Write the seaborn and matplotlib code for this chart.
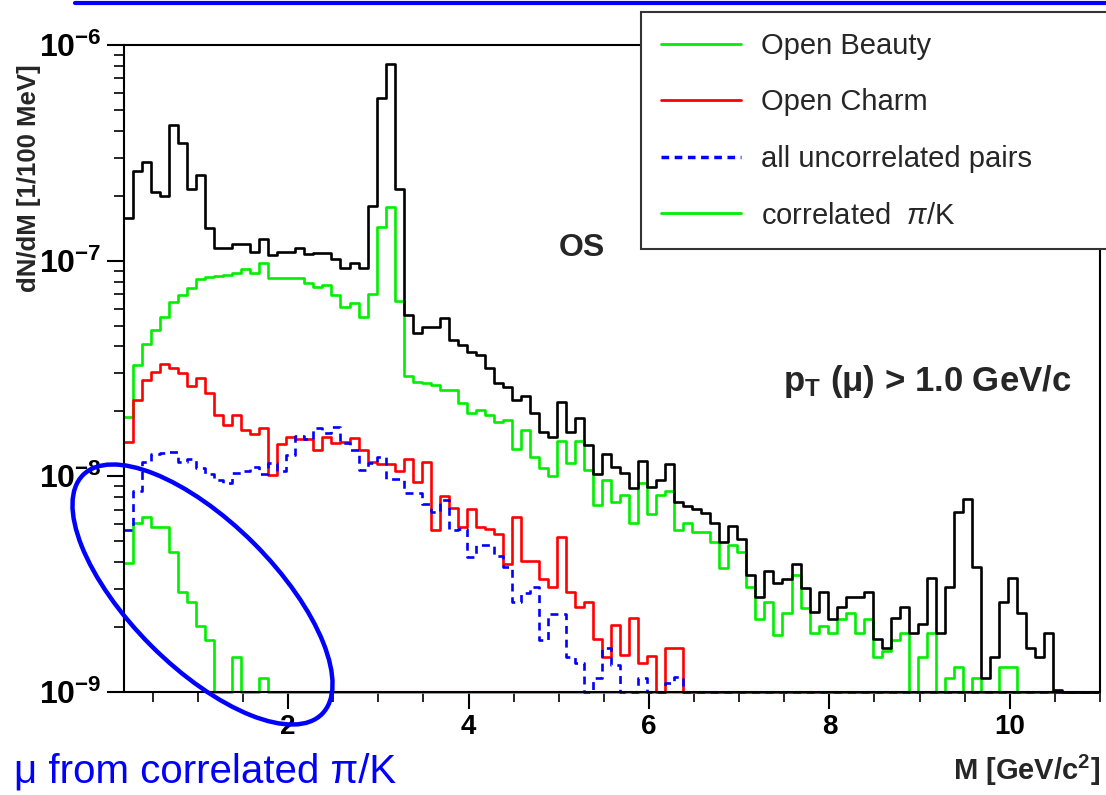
import numpy as np
import matplotlib
matplotlib.use("Agg")
import matplotlib.pyplot as plt
import seaborn as sns
from matplotlib.lines import Line2D
from matplotlib.patches import Ellipse
from matplotlib.transforms import IdentityTransform
from matplotlib.ticker import MultipleLocator, LogLocator, NullFormatter

# ---------------- data (dN/dM per 100 MeV bin) ----------------
bin_low = 0.18
bin_width = 0.1

total = [
    1.57e-7, 2.61e-7, 2.87e-7, 2.09e-7, 2.00e-7, 4.26e-7, 3.50e-7, 2.14e-7, 2.50e-7, 1.41e-7,
    1.14e-7, 1.14e-7, 1.19e-7, 1.19e-7, 1.10e-7, 1.26e-7, 1.06e-7, 1.10e-7, 1.10e-7, 1.14e-7,
    1.07e-7, 1.08e-7, 1.08e-7, 1.02e-7, 9.25e-8, 9.80e-8, 9.25e-8, 1.80e-7, 5.70e-7, 8.15e-7,
    2.15e-7, 5.60e-8, 4.60e-8, 4.90e-8, 4.90e-8, 5.45e-8, 4.30e-8, 4.07e-8, 3.78e-8, 3.66e-8,
    3.18e-8, 2.70e-8, 2.60e-8, 2.26e-8, 2.36e-8, 1.97e-8, 1.60e-8, 1.53e-8, 2.22e-8, 1.60e-8,
    1.86e-8, 1.40e-8, 1.03e-8, 1.27e-8, 1.11e-8, 1.04e-8, 8.80e-9, 1.18e-8, 8.90e-9, 9.60e-9,
    1.14e-8, 7.60e-9, 7.25e-9, 7.05e-9, 6.75e-9, 6.10e-9, 4.97e-9, 5.90e-9, 5.13e-9, 3.49e-9,
    2.76e-9, 3.64e-9, 3.20e-9, 3.34e-9, 3.93e-9, 3.04e-9, 2.35e-9, 2.91e-9, 2.18e-9, 2.48e-9,
    2.76e-9, 2.76e-9, 2.91e-9, 1.76e-9, 1.60e-9, 2.20e-9, 2.48e-9, 1.88e-9, 2.07e-9, 3.38e-9,
    1.88e-9, 3.08e-9, 6.86e-9, 7.83e-9, 3.79e-9, 1.16e-9, 1.46e-9, 2.62e-9, 3.38e-9, 2.33e-9,
    1.60e-9, 1.46e-9, 1.88e-9, 1.02e-9, 0.0, 0.0, 0.0, 0.0,
]

open_beauty = [
    1.89e-8, 3.28e-8, 4.11e-8, 4.77e-8, 5.50e-8, 6.45e-8, 6.93e-8, 7.45e-8, 8.20e-8, 8.38e-8,
    8.45e-8, 8.59e-8, 8.75e-8, 9.12e-8, 8.75e-8, 9.79e-8, 8.32e-8, 8.32e-8, 8.32e-8, 8.32e-8,
    7.88e-8, 7.53e-8, 7.71e-8, 6.93e-8, 6.12e-8, 6.35e-8, 5.50e-8, 7.01e-8, 1.44e-7, 1.78e-7,
    6.50e-8, 2.92e-8, 2.75e-8, 2.71e-8, 2.65e-8, 2.52e-8, 2.52e-8, 2.19e-8, 1.97e-8, 2.03e-8,
    1.93e-8, 1.79e-8, 1.82e-8, 1.34e-8, 1.64e-8, 1.23e-8, 1.09e-8, 1.00e-8, 1.46e-8, 1.15e-8,
    1.46e-8, 1.07e-8, 7.36e-9, 9.60e-9, 7.64e-9, 8.20e-9, 6.10e-9, 9.35e-9, 6.67e-9, 8.20e-9,
    8.59e-9, 5.64e-9, 6.10e-9, 5.54e-9, 5.54e-9, 4.97e-9, 3.76e-9, 4.81e-9, 4.48e-9, 3.07e-9,
    2.18e-9, 2.62e-9, 1.83e-9, 2.33e-9, 3.49e-9, 2.46e-9, 1.87e-9, 2.03e-9, 1.87e-9, 2.18e-9,
    2.33e-9, 1.87e-9, 2.18e-9, 1.45e-9, 1.55e-9, 1.74e-9, 1.88e-9, 0.0, 1.46e-9, 1.88e-9,
    0.0, 1.16e-9, 1.31e-9, 0.0, 1.16e-9, 0.0, 0.0, 1.31e-9, 1.31e-9, 0.0,
    0.0, 0.0, 0.0, 0.0, 0.0, 0.0, 0.0, 0.0,
]

open_charm = [
    1.45e-8, 2.26e-8, 2.80e-8, 3.06e-8, 3.31e-8, 3.17e-8, 3.01e-8, 2.62e-8, 2.85e-8, 2.43e-8,
    1.93e-8, 1.73e-8, 1.93e-8, 1.64e-8, 1.57e-8, 1.68e-8, 1.01e-8, 1.41e-8, 1.53e-8, 1.49e-8,
    1.49e-8, 1.32e-8, 1.53e-8, 1.42e-8, 1.45e-8, 1.50e-8, 1.33e-8, 1.17e-8, 1.14e-8, 1.14e-8,
    1.06e-8, 1.20e-8, 9.46e-9, 1.17e-8, 5.64e-9, 8.10e-9, 7.11e-9, 5.85e-9, 7.03e-9, 5.85e-9,
    5.69e-9, 5.41e-9, 3.93e-9, 6.47e-9, 4.06e-9, 4.06e-9, 3.33e-9, 3.06e-9, 5.25e-9, 2.92e-9,
    2.49e-9, 2.62e-9, 1.77e-9, 1.46e-9, 2.05e-9, 1.49e-9, 2.20e-9, 1.36e-9, 1.47e-9, 0.0,
    1.60e-9, 1.60e-9, 0.0, 0.0, 0.0, 0.0, 0.0, 0.0, 0.0, 0.0,
    0.0, 0.0, 0.0, 0.0, 0.0, 0.0, 0.0, 0.0, 0.0, 0.0,
    0.0, 0.0, 0.0, 0.0, 0.0, 0.0, 0.0, 0.0, 0.0, 0.0,
    0.0, 0.0, 0.0, 0.0, 0.0, 0.0, 0.0, 0.0, 0.0, 0.0,
    0.0, 0.0, 0.0, 0.0, 0.0, 0.0, 0.0, 0.0,
]

uncorrelated = [
    5.64e-9, 8.59e-9, 1.17e-8, 1.27e-8, 1.28e-8, 1.30e-8, 1.17e-8, 1.20e-8, 1.09e-8, 1.03e-8,
    9.60e-9, 9.35e-9, 1.04e-8, 1.06e-8, 1.11e-8, 1.03e-8, 1.15e-8, 1.06e-8, 1.26e-8, 1.54e-8,
    1.49e-8, 1.67e-8, 1.58e-8, 1.70e-8, 1.43e-8, 1.33e-8, 1.07e-8, 1.15e-8, 1.23e-8, 9.70e-9,
    9.70e-9, 8.35e-9, 8.40e-9, 7.45e-9, 6.86e-9, 7.73e-9, 5.64e-9, 5.69e-9, 4.22e-9, 4.81e-9,
    4.81e-9, 4.25e-9, 3.79e-9, 2.62e-9, 2.87e-9, 3.06e-9, 1.74e-9, 2.29e-9, 2.29e-9, 1.46e-9,
    1.36e-9, 0.0, 1.16e-9, 1.60e-9, 1.34e-9, 0.0, 0.0, 1.16e-9, 0.0, 0.0,
    1.10e-9, 1.17e-9, 0.0, 0.0, 0.0, 0.0, 0.0, 0.0, 0.0, 0.0,
    0.0, 0.0, 0.0, 0.0, 0.0, 0.0, 0.0, 0.0, 0.0, 0.0,
    0.0, 0.0, 0.0, 0.0, 0.0, 0.0, 0.0, 0.0, 0.0, 0.0,
    0.0, 0.0, 0.0, 0.0, 0.0, 0.0, 0.0, 0.0, 0.0, 0.0,
    0.0, 0.0, 0.0, 0.0, 0.0, 0.0, 0.0, 0.0,
]

correlated_piK = [
    3.95e-9, 6.10e-9, 6.50e-9, 5.81e-9, 5.81e-9, 4.48e-9, 2.92e-9, 2.62e-9, 2.02e-9, 1.74e-9,
    0.0, 0.0, 1.45e-9, 0.0, 0.0, 1.16e-9, 0.0, 0.0, 0.0, 0.0,
    0.0, 0.0, 0.0, 0.0, 0.0, 0.0, 0.0, 0.0, 0.0, 0.0,
    0.0, 0.0, 0.0, 0.0, 0.0, 0.0, 0.0, 0.0, 0.0, 0.0,
    0.0, 0.0, 0.0, 0.0, 0.0, 0.0, 0.0, 0.0, 0.0, 0.0,
    0.0, 0.0, 0.0, 0.0, 0.0, 0.0, 0.0, 0.0, 0.0, 0.0,
    0.0, 0.0, 0.0, 0.0, 0.0, 0.0, 0.0, 0.0, 0.0, 0.0,
    0.0, 0.0, 0.0, 0.0, 0.0, 0.0, 0.0, 0.0, 0.0, 0.0,
    0.0, 0.0, 0.0, 0.0, 0.0, 0.0, 0.0, 0.0, 0.0, 0.0,
    0.0, 0.0, 0.0, 0.0, 0.0, 0.0, 0.0, 0.0, 0.0, 0.0,
    0.0, 0.0, 0.0, 0.0, 0.0, 0.0, 0.0, 0.0,
]

legend_labels = ["Open Beauty", "Open Charm", "all uncorrelated pairs", r"correlated  $\pi$/K"]
x_ticks = [2, 4, 6, 8, 10]
x_tick_labels = ["2", "4", "6", "8", "10"]
y_ticks = [1e-9, 1e-8, 1e-7, 1e-6]
y_tick_labels = [r"$\mathbf{10^{-9}}$", r"$\mathbf{10^{-8}}$", r"$\mathbf{10^{-7}}$", r"$\mathbf{10^{-6}}$"]

# ---------------- style ----------------
sns.set_theme(style="ticks")
plt.rcParams["font.family"] = ["Liberation Sans", "DejaVu Sans"]
plt.rcParams["mathtext.fontset"] = "custom"
plt.rcParams["mathtext.rm"] = "Liberation Sans"
plt.rcParams["mathtext.bf"] = "Liberation Sans:bold"
plt.rcParams["mathtext.it"] = "Liberation Sans:italic"

GREEN = "#00ee00"
RED = "#ff0000"
BLUE = "#0000ff"
BLACK = "#000000"
DASH = (0, (3.0, 2.2))

W, H = 1106, 795
fig = plt.figure(figsize=(W / 100, H / 100), dpi=100)
fig.patch.set_facecolor("white")
ax = fig.add_axes([124 / W, 1 - 692 / H, (1100 - 124) / W, (692 - 45) / H])

edges = bin_low + bin_width * np.arange(len(total) + 1)
ymin = 1e-9

series = [
    (open_beauty, GREEN, "-"),
    (correlated_piK, GREEN, "-"),
    (open_charm, RED, "-"),
    (uncorrelated, BLUE, DASH),
    (total, BLACK, "-"),
]
for vals, color, ls in series:
    v = np.asarray(vals, dtype=float)
    y = np.clip(np.append(v, v[-1]), ymin, None)
    sns.lineplot(x=edges, y=y, ax=ax, estimator=None, sort=False,
                 drawstyle="steps-post", color=color, linestyle=ls,
                 linewidth=1.9, clip_on=False)

ax.set_yscale("log")
ax.set_xlim(bin_low, 11.0)
ax.set_ylim(1e-9, 1e-6)
ax.set_xlabel("")
ax.set_ylabel("")

ax.set_xticks(x_ticks)
ax.set_xticklabels(x_tick_labels, fontweight="bold", fontsize=20)
ax.xaxis.set_minor_locator(MultipleLocator(0.5))
ax.set_yticks(y_ticks)
ax.set_yticklabels(y_tick_labels, fontsize=23)
ax.yaxis.set_minor_locator(LogLocator(base=10, subs=np.arange(2, 10)))
ax.yaxis.set_minor_formatter(NullFormatter())
ax.tick_params(which="major", direction="out", length=12, width=1.5, color=BLACK, pad=4, labelcolor=BLACK)
ax.tick_params(which="minor", direction="out", length=7, width=1.2, color=BLACK)
for sp in ax.spines.values():
    sp.set_visible(True)
    sp.set_linewidth(1.5)
    sp.set_color(BLACK)

# ---------------- legend ----------------
handles = [
    Line2D([], [], color=GREEN, lw=2),
    Line2D([], [], color=RED, lw=2),
    Line2D([], [], color=BLUE, lw=2.5, linestyle=(0, (2.2, 1.6))),
    Line2D([], [], color=GREEN, lw=2),
]
leg_top = 1 - 12 / H
leg = fig.legend(handles, legend_labels, loc="upper left",
                 bbox_to_anchor=(641 / W, leg_top - 0.4, 0.5, 0.4),
                 bbox_transform=fig.transFigure, mode="expand",
                 fontsize=21, frameon=True, fancybox=False, framealpha=1,
                 edgecolor="#333333", handlelength=2.75, handletextpad=0.7,
                 labelspacing=0.98, borderpad=0.68, borderaxespad=0)
leg.get_frame().set_linewidth(1.5)

# ---------------- texts ----------------
fig.text(582 / W, 1 - 248 / H, "OS", ha="center", va="center", fontsize=23, fontweight="bold")
fig.text(783 / W, 1 - 382 / H, r"$\mathbf{p_{T}}$ (μ) > 1.0 GeV/c", ha="left", va="center",
         fontsize=25, fontweight="bold")
fig.text(29 / W, 1 - 178 / H, "dN/dM [1/100 MeV]", rotation=90, ha="center", va="center",
         fontsize=18.5, fontweight="bold")
fig.text(1100 / W, 1 - 770 / H, r"M [GeV/c$^{\mathbf{2}}$]", ha="right", va="center",
         fontsize=21, fontweight="bold")
fig.text(14 / W, 1 - 772 / H, "μ from correlated π/K", ha="left", va="center",
         fontsize=29, color=BLUE)

# blue annotation ellipse (display pixels) and slide border line
ell = Ellipse((202.5, H - 594.5), 338, 145, angle=-45, transform=IdentityTransform(),
              fill=False, edgecolor=BLUE, linewidth=3.2)
fig.add_artist(ell)
fig.add_artist(Line2D([75 / W, 1.0], [1 - 3 / H, 1 - 3 / H], transform=fig.transFigure,
                      color=BLUE, linewidth=3))

fig.savefig("out.png", dpi=100, facecolor="white")
